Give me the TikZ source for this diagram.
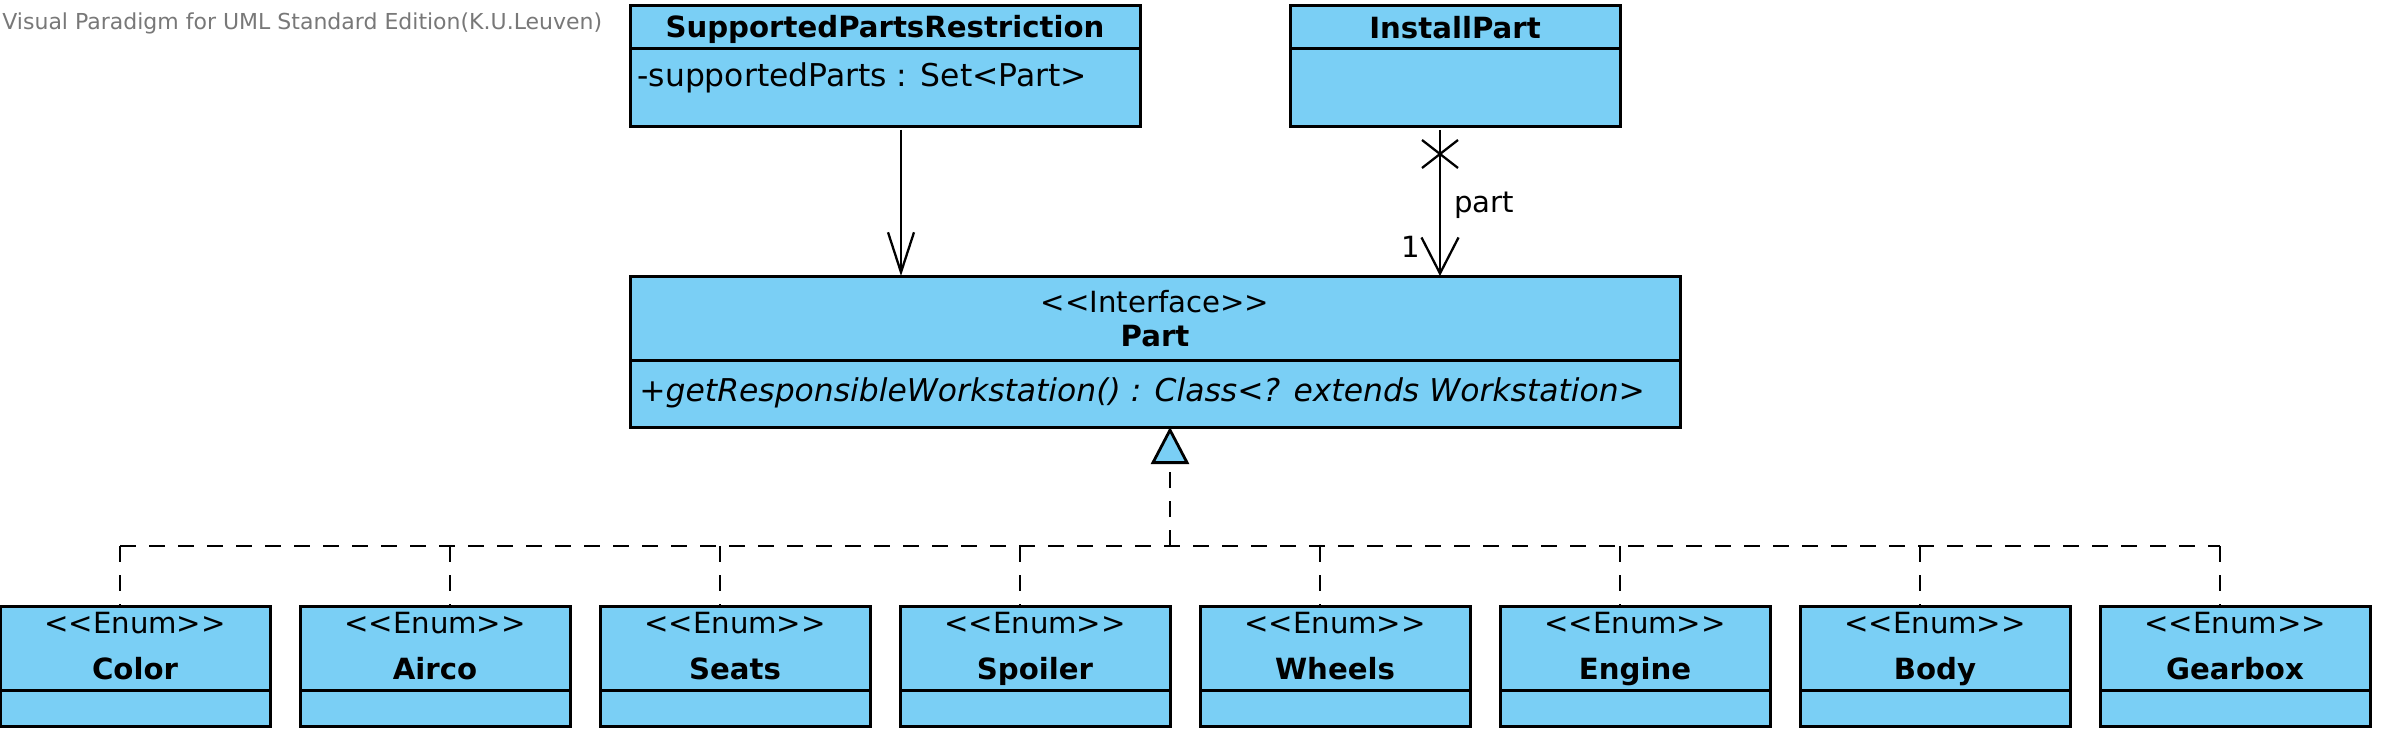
\documentclass[tikz,border=0pt]{standalone}
\usepackage{fontspec}
\setmainfont{DejaVu Sans}
\usetikzlibrary{arrows.meta,calc}
\definecolor{boxblue}{RGB}{122,207,245}
\definecolor{markgray}{RGB}{120,120,120}
\newcommand\stl{<\kern0pt<}
\newcommand\stg{>\kern0pt>}
\newcommand\umlbox[5]{%
  \node[cls, minimum width={(#4-#2)*0.5pt}, minimum height={(#5-#3)*0.5pt}] (#1) at (#2,#3) {};}
\begin{document}
\begin{tikzpicture}[x=0.5pt,y=-0.5pt,
  cls/.style={draw=black, fill=boxblue, line width=1.5pt, inner sep=0pt, outer sep=0pt, anchor=north west},
  sepline/.style={draw=black, line width=1.5pt},
  txt/.style={font=\fontsize{14.6pt}{17pt}\selectfont, inner sep=0pt, anchor=base},
  txtl/.style={txt, anchor=base west},
  member/.style={txtl, font=\fontsize{15.7pt}{18pt}\selectfont},
  bold/.style={font=\fontsize{14.6pt}{17pt}\selectfont\bfseries},
  assoc/.style={draw=black, line width=1.15pt},
  realz/.style={draw=black, line width=1.3pt, dash pattern=on 8pt off 6.5pt},
]
\useasboundingbox (0,0) rectangle (2382,738);

% watermark
\node[inner sep=0pt, anchor=base west, text=markgray, font=\fontsize{11pt}{13pt}\selectfont] (mark) at (2,30) {Visual Paradigm for UML Standard Edition(K.U.Leuven)};

% SupportedPartsRestriction
\umlbox{spr}{630}{6}{1140}{127}
\draw[sepline] ($(spr.north west)+(0,43)$) -- ($(spr.north east)+(0,43)$);
\node[txt, bold] (sprname) at (885,38) {SupportedPartsRestriction};
\node[member] (sprattr) at (637,87) {-supportedParts : Set<Part>};

% InstallPart
\umlbox{ip}{1290}{6}{1620}{127}
\draw[sepline] ($(ip.north west)+(0,43)$) -- ($(ip.north east)+(0,43)$);
\node[txt, bold] (ipname) at (1455,39) {InstallPart};

% Part
\umlbox{part}{630}{276}{1680}{427}
\draw[sepline] ($(part.north west)+(0,84)$) -- ($(part.north east)+(0,84)$);
\node[txt] (partst) at (1155,312) {\stl Interface\stg};
\node[txt, bold] (partname) at (1155,346) {Part};
\node[member, font=\fontsize{15.7pt}{18pt}\selectfont\itshape] (partop) at (639,401) {+getResponsibleWorkstation() : Class<? extends Workstation>};

% associations
\coordinate (sprx) at (901,0);
\coordinate (ipx) at (1440,0);
\draw[assoc, -{Straight Barb[length=20pt, width=13pt]}] (sprx |- spr.south) ++(0,3) -- (sprx |- part.north);
\draw[assoc, -{Straight Barb[length=18pt, width=18.5pt]}] (ipx |- ip.south) ++(0,3) -- (ipx |- part.north);
\coordinate (xm) at (1440,154);
\draw[assoc] ($(xm)+(-18,-14)$) -- ($(xm)+(18,14)$);
\draw[assoc] ($(xm)+(18,-14)$) -- ($(xm)+(-18,14)$);
\node[txtl] (partlbl) at (1454,213) {part};
\node[txtl] (multlbl) at (1401,257) {1};

% enums
\foreach \n/\t/\i/\dx in {color/Color/0/120, airco/Airco/1/150, seats/Seats/2/120, spoiler/Spoiler/3/120, wheels/Wheels/4/120, engine/Engine/5/120, body/Body/6/120, gearbox/Gearbox/7/120}{
  \pgfmathsetmacro\bx{300*\i}
  \pgfmathsetmacro\bxr{300*\i+270}
  \pgfmathsetmacro\bc{300*\i+135}
  \pgfmathsetmacro\dr{300*\i+\dx}
  \umlbox{\n}{\bx}{606}{\bxr}{726}
  \draw[sepline] ($(\n.north west)+(0,84)$) -- ($(\n.north east)+(0,84)$);
  \node[txt] (\n st) at (\bc,633) {\stl Enum\stg};
  \node[txt, bold] (\n name) at (\bc,679) {\t};
  \coordinate (bus\n) at (\dr,546);
  \draw[realz] (bus\n) -- (bus\n |- \n.north);
}
\draw[realz] (buscolor) -- (busgearbox);
\coordinate (busmid) at (1170,546);
\draw[realz, -{Triangle[length=18.5pt, width=19pt, fill=boxblue, line width=1.4pt]}] (busmid) -- (busmid |- part.south);
\end{tikzpicture}
\end{document}
